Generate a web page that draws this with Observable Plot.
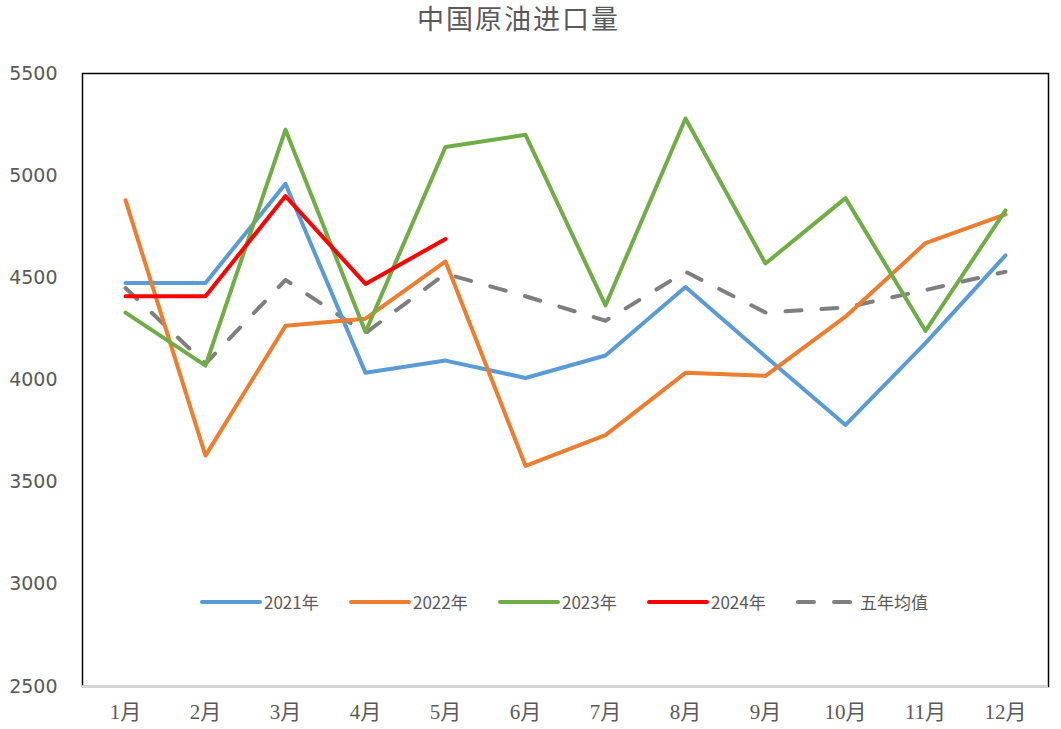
<!DOCTYPE html>
<html>
<head>
<meta charset="utf-8">
<script src="https://cdn.jsdelivr.net/npm/d3@7"></script>
<script src="https://cdn.jsdelivr.net/npm/@observablehq/plot@0.6"></script>
<style>
  body { margin: 0; background: #fff; }
  #wrap { position: relative; width: 1061px; height: 729px; }
  #title { height: 40px; line-height: 35px; width: 1061px; box-sizing: border-box; padding-right: 24px;
    text-align: center; font-family: "Noto Sans CJK SC", sans-serif; font-size: 27px; color: #595959; letter-spacing: 2px; }
  #legend { position: absolute; left: 200px; top: 589px; display: flex; align-items: center;
    font-family: "Noto Sans CJK SC", "DejaVu Sans", sans-serif; font-size: 17px; color: #595959; }
  .item { display: flex; align-items: center; width: 149px; }
  .item svg { margin-right: 2px; }
</style>
</head>
<body>
<div id="wrap">
  <div id="title">中国原油进口量</div>
  <div id="chart"></div>
  <div id="legend"></div>
</div>
<script>
const months = ["1月","2月","3月","4月","5月","6月","7月","8月","9月","10月","11月","12月"];
const yTicks = [2500, 3000, 3500, 4000, 4500, 5000, 5500];
const seriesNames = ["2021年", "2022年", "2023年", "2024年", "五年均值"];
const v2021 = [4475, 4475, 4960, 4035, 4095, 4010, 4120, 4455, 4115, 3780, 4180, 4610];
const v2022 = [4880, 3630, 4265, 4300, 4580, 3580, 3730, 4035, 4020, 4310, 4670, 4810];
const v2023 = [4330, 4070, 5225, 4235, 5140, 5200, 4365, 5280, 4570, 4890, 4240, 4830];
const v2024 = [4410, 4410, 4900, 4470, 4690];
const vAvg  = [4450, 4080, 4490, 4230, 4520, 4410, 4290, 4530, 4330, 4355, 4440, 4530];
const colors = ["#5B9BD5", "#ED7D31", "#70AD47", "#FF0000", "#7F7F7F"];

const allValues = [v2021, v2022, v2023, v2024, vAvg];
const rows = [];
allValues.forEach((vals, si) => vals.forEach((v, i) => rows.push({series: seriesNames[si], month: months[i], value: v})));

const solidRows = rows.filter(d => d.series !== "五年均值");
const avgRows = rows.filter(d => d.series === "五年均值");

const chart = Plot.plot({
  width: 1061,
  height: 689,
  marginLeft: 82,
  marginRight: 13,
  marginTop: 33,
  marginBottom: 43,
  style: {fontFamily: "DejaVu Sans, sans-serif", color: "#595959", background: "#fff"},
  x: {type: "point", domain: months, padding: 0.5, label: null},
  y: {domain: [2500, 5500], ticks: yTicks, label: null},
  color: {domain: seriesNames, range: colors},
  marks: [
    Plot.axisY({ticks: yTicks, tickSize: 0, tickPadding: 25, fontSize: 19, tickFormat: d => String(d), fill: "#595959"}),
    Plot.axisX({tickSize: 0, tickPadding: 18, fontSize: 21, fontFamily: "Liberation Serif, Noto Sans CJK SC, serif", fill: "#595959"}),
    Plot.frame({stroke: "#000", strokeWidth: 1.5}),
    Plot.ruleY([2500], {stroke: "#D9D9D9", strokeWidth: 2.5}),
    Plot.line(avgRows, {x: "month", y: "value", stroke: "series", strokeWidth: 4, strokeDasharray: "16,20", strokeLinecap: "round", strokeLinejoin: "round"}),
    Plot.line(solidRows, {x: "month", y: "value", z: "series", stroke: "series", strokeWidth: 4, strokeLinecap: "round", strokeLinejoin: "round"})
  ]
});
document.getElementById("chart").appendChild(chart);

const legend = document.getElementById("legend");
seriesNames.forEach((name, i) => {
  const item = document.createElement("div");
  item.className = "item";
  const dashed = i === 4;
  item.innerHTML = `<svg width="62" height="10"><line x1="2" y1="5" x2="${dashed ? 58 : 60}" y2="5" stroke="${colors[i]}" stroke-width="4" stroke-linecap="round" ${dashed ? 'stroke-dasharray="16,20"' : ''}/></svg><span>${name}</span>`;
  legend.appendChild(item);
});
</script>
</body>
</html>
